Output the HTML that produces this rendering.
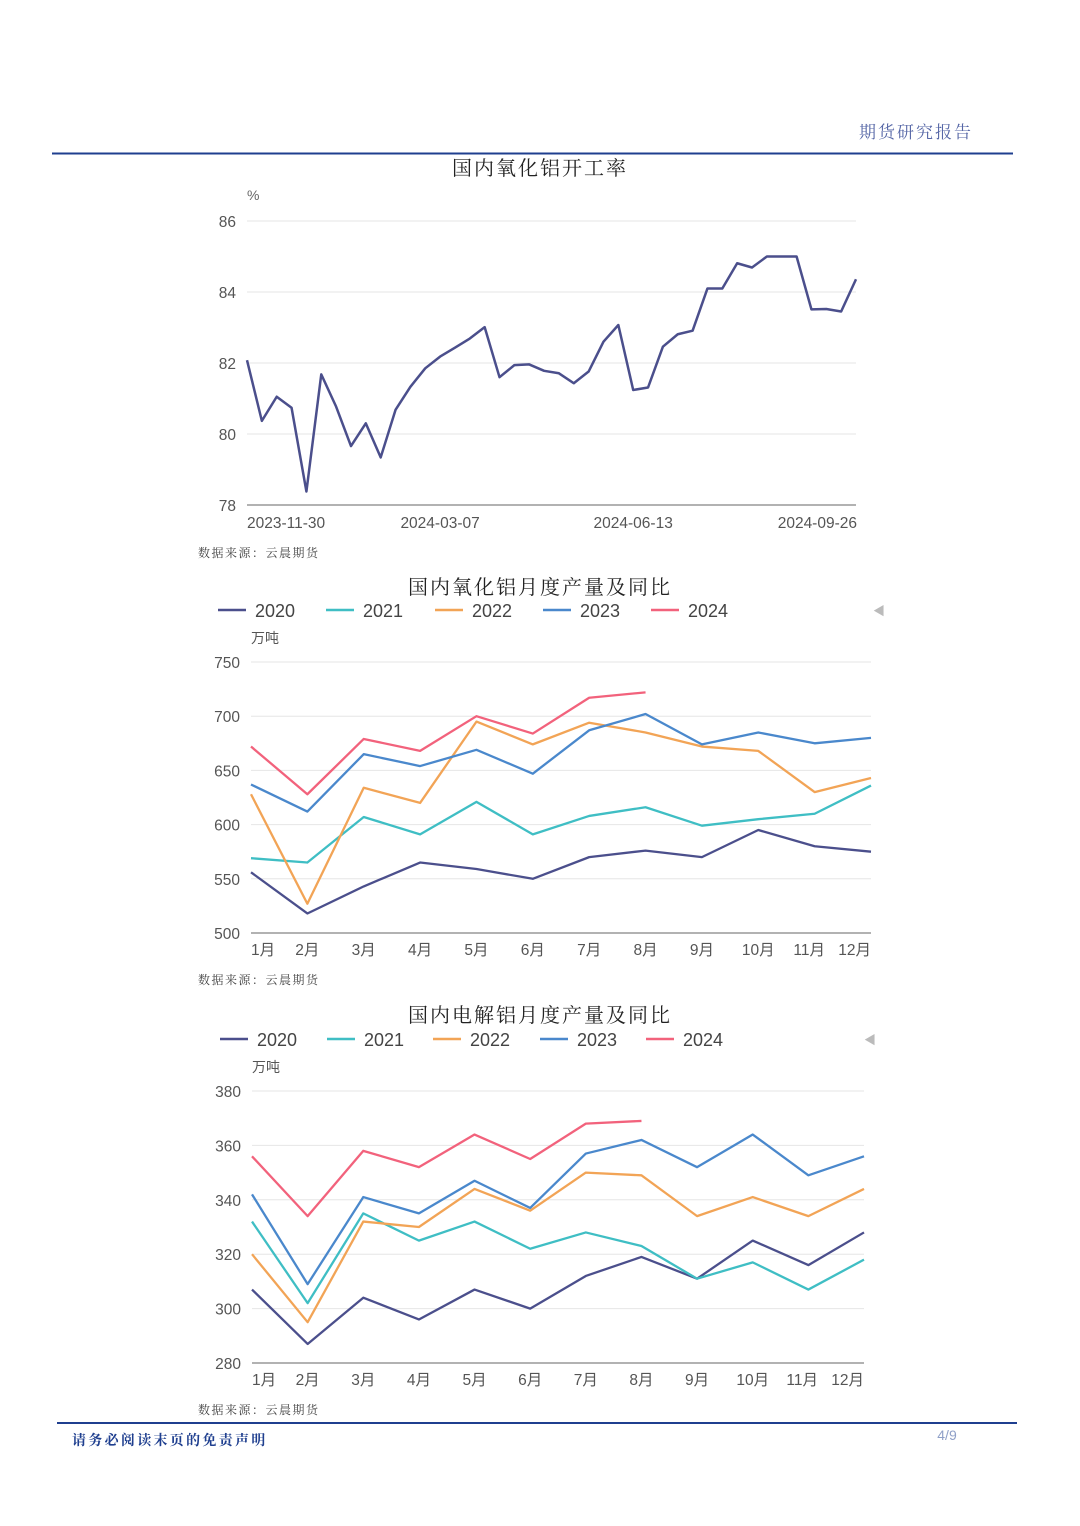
<!DOCTYPE html>
<html><head><meta charset="utf-8">
<style>
html,body{margin:0;padding:0;background:#fff;}
body{width:1080px;height:1526px;position:relative;overflow:hidden;}
svg{position:absolute;left:0;top:0;}
</style></head>
<body>
<svg id="page" width="1080" height="1526" viewBox="0 0 1080 1526" xmlns="http://www.w3.org/2000/svg">
  <text x="973" y="138" text-anchor="end" letter-spacing="2" font-family="'Liberation Serif','Noto Serif CJK SC',serif" font-size="17" fill="#5566a6">期货研究报告</text>
  <line x1="52" y1="153.5" x2="1013" y2="153.5" stroke="#1f3f8f" stroke-width="2"/>
  <line x1="57" y1="1423" x2="1017" y2="1423" stroke="#1f3f8f" stroke-width="2"/>
  <text x="72" y="1445" letter-spacing="2.3" font-family="'Liberation Serif','Noto Serif CJK SC',serif" font-weight="bold" font-size="14" fill="#1f3f8f">请务必阅读末页的免责声明</text>
  <text x="947" y="1440" text-anchor="middle" font-family="'Liberation Sans',sans-serif" font-size="14" fill="#8fa0c8">4/9</text>
  <g id="c1"></g>
  <g id="c2"></g>
  <g id="c3"></g>
</svg>
<script>
// ---- Chart 1 data ----
const rateValues = [82.08,80.37,81.05,80.74,78.38,81.68,80.77,79.66,80.30,79.34,80.68,81.33,81.85,82.18,82.43,82.69,83.01,81.60,81.94,81.96,81.78,81.71,81.43,81.76,82.60,83.07,81.24,81.31,82.46,82.81,82.91,84.10,84.10,84.81,84.69,85.0,85.0,85.0,83.51,83.52,83.45,84.36];
const rateTicks = [78,80,82,84,86];
const rateDateLabels = ['2023-11-30','2024-03-07','2024-06-13','2024-09-26'];
const rateDateIdx = [3,13,26,38];
// ---- Chart 2 data ----
const months = ['1月','2月','3月','4月','5月','6月','7月','8月','9月','10月','11月','12月'];
const seriesYears = ['2020','2021','2022','2023','2024'];
const alumina2020 = [556,518,543,565,559,550,570,576,570,595,580,575];
const alumina2021 = [569,565,607,591,621,591,608,616,599,605,610,636];
const alumina2022 = [628,527,634,620,695,674,694,685,672,668,630,643];
const alumina2023 = [637,612,665,654,669,647,687,702,674,685,675,680];
const alumina2024 = [672,628,679,668,700,684,717,722];
const aluminaTicks = [500,550,600,650,700,750];
// ---- Chart 3 data ----
const alu2020 = [307,287,304,296,307,300,312,319,311,325,316,328];
const alu2021 = [332,302,335,325,332,322,328,323,311,317,307,318];
const alu2022 = [320,295,332,330,344,336,350,349,334,341,334,344];
const alu2023 = [342,309,341,335,347,337,357,362,352,364,349,356];
const alu2024 = [356,334,358,352,364,355,368,369];
const aluTicks = [280,300,320,340,360,380];

const colors = ['#4b4f8c','#3fbec4','#f2a456','#4a88cc','#f2627c'];
const NS = 'http://www.w3.org/2000/svg';
const SANS = "'Liberation Sans','Noto Sans CJK SC',sans-serif";
const SERIF = "'Liberation Serif','Noto Serif CJK SC',serif";
function mk(parent, tag, attrs, text){
  const e = document.createElementNS(NS, tag);
  for (const k in attrs) e.setAttribute(k, attrs[k]);
  if (text !== undefined) e.textContent = text;
  parent.appendChild(e);
  return e;
}

// ---------- Chart 1 ----------
(function(){
  const g = document.getElementById('c1');
  const x0 = 247, x1 = 856, yTop = 221, yBot = 505, vMin = 78, vMax = 86;
  const xs = i => x0 + (x1 - x0) * i / (rateValues.length - 1);
  const ys = v => yBot - (v - vMin) / (vMax - vMin) * (yBot - yTop);
  let t = mk(g,'text',{x:540,y:175,'text-anchor':'middle','letter-spacing':2,'font-family':SERIF,'font-size':20,fill:'#222'},'国内氧化铝开工率');
  
  
  t = mk(g,'text',{x:247,y:200,'font-family':SANS,'font-size':14,fill:'#666'},'%');
  
  
  rateTicks.forEach(v=>{
    const y = ys(v);
    const l = mk(g,'line',{x1:x0,y1:y,x2:x1,y2:y,stroke:v===vMin?'#999':'#e6e6e6','stroke-width':v===vMin?1.5:1});
    
    
    const tx = mk(g,'text',{x:236,y:y+6,'text-anchor':'end','font-family':SANS,'font-size':15.5,fill:'#555'},String(v));
    
    
  });
  rateDateLabels.forEach((d,k)=>{
    let anchor='middle', x = xs(rateDateIdx[k]);
    if (k===0){anchor='start'; x=x0;}
    if (k===rateDateLabels.length-1){anchor='end'; x=x1+1;}
    const tx = mk(g,'text',{x:x,y:528,'text-anchor':anchor,'font-family':SANS,'font-size':15.5,fill:'#555'},d);
    
    
  });
  const p = mk(g,'polyline',{points:rateValues.map((v,i)=>xs(i)+','+ys(v)).join(' '),fill:'none',stroke:colors[0],'stroke-width':2.5,'stroke-linejoin':'round'});
  
  
  t = mk(g,'text',{x:198,y:557,'letter-spacing':1.5,'font-family':SERIF,'font-size':12,fill:'#444'},'数据来源：云晨期货');
  
  
})();

function monthChart(gid, title, titleY, series, ticks, box, legend, unitXY, srcY){
  const g = document.getElementById(gid);
  const [x0,x1,yTop,yBot] = box;
  const vMin = ticks[0], vMax = ticks[ticks.length-1];
  const xs = i => x0 + (x1-x0)*i/(months.length-1);
  const ys = v => yBot - (v-vMin)/(vMax-vMin)*(yBot-yTop);
  let t = mk(g,'text',{x:540,y:titleY,'text-anchor':'middle','letter-spacing':2,'font-family':SERIF,'font-size':20,fill:'#222'},title);
  
  
  seriesYears.forEach((yr,k)=>{
    const lx = legend.xs[k];
    const lg = mk(g,'g',{});
    
    
    mk(lg,'line',{x1:lx,y1:legend.y,x2:lx+28,y2:legend.y,stroke:colors[k],'stroke-width':2.5});
    mk(lg,'text',{x:lx+37,y:legend.y+7,'font-family':SANS,'font-size':18,fill:'#444'},yr);
  });
  t = mk(g,'text',{x:legend.arrow,y:legend.y+5,'text-anchor':'middle','font-family':SANS,'font-size':12,fill:'#bbb'},'◀');
  
  
  t = mk(g,'text',{x:unitXY[0],y:unitXY[1],'font-family':SANS,'font-size':14,fill:'#555'},'万吨');
  
  
  ticks.forEach(v=>{
    const y = ys(v);
    const l = mk(g,'line',{x1:x0,y1:y,x2:x1,y2:y,stroke:v===vMin?'#999':'#e6e6e6','stroke-width':v===vMin?1.5:1});
    
    
    const tx = mk(g,'text',{x:x0-11,y:y+6,'text-anchor':'end','font-family':SANS,'font-size':15.5,fill:'#555'},String(v));
    
    
  });
  months.forEach((m,i)=>{
    let x = xs(i), anchor='middle';
    if (i===0){x=x0; anchor='start';}
    if (i===months.length-1){x=x1; anchor='end';}
    if (i===months.length-2){x=x1-46; anchor='end';}
    const tx = mk(g,'text',{x:x,y:yBot+22,'text-anchor':anchor,'font-family':SANS,'font-size':15.5,fill:'#555'},m);
    
    
  });
  series.forEach((vals,k)=>{
    const p = mk(g,'polyline',{points:vals.map((v,i)=>xs(i)+','+ys(v)).join(' '),fill:'none',stroke:colors[k],'stroke-width':2.3,'stroke-linejoin':'round'});
    
    
  });
  t = mk(g,'text',{x:198,y:srcY,'letter-spacing':1.5,'font-family':SERIF,'font-size':12,fill:'#444'},'数据来源：云晨期货');
  
  
}
monthChart('c2','国内氧化铝月度产量及同比',594,[alumina2020,alumina2021,alumina2022,alumina2023,alumina2024],aluminaTicks,[251,871,662,933],{y:610,xs:[218,326,435,543,651],arrow:879},[251,643],984);
monthChart('c3','国内电解铝月度产量及同比',1022,[alu2020,alu2021,alu2022,alu2023,alu2024],aluTicks,[252,864,1091,1363],{y:1039,xs:[220,327,433,540,646],arrow:870},[252,1072],1414);
</script>
</body></html>
